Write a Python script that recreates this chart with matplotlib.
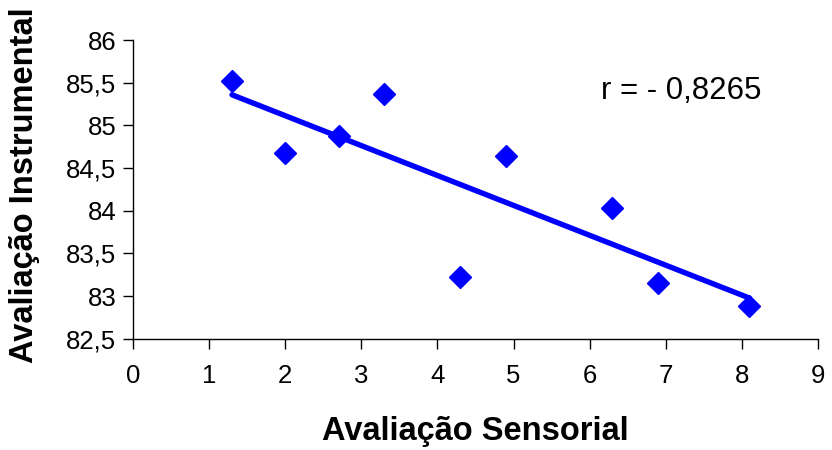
import numpy as np
import matplotlib.pyplot as plt

plt.rcParams['font.family'] = ['Liberation Sans', 'DejaVu Sans']

# readings
sensorial = [1.3, 2.0, 2.7, 3.3, 4.3, 4.9, 6.3, 6.9, 8.1]
instrumental = [85.52, 84.68, 84.88, 85.37, 83.22, 84.64, 84.03, 83.16, 82.89]
r_label = "r = - 0,8265"
yticks = [82.5, 83, 83.5, 84, 84.5, 85, 85.5, 86]

x = np.array(sensorial)
y = np.array(instrumental)
slope, icpt = np.polyfit(x, y, 1)
xl = np.array([x.min(), x.max()])

fig = plt.figure(figsize=(8.32, 4.5), dpi=100)
ax = fig.add_axes([0.16, 0.247, 0.823, 0.664])

ax.plot(xl, slope * xl + icpt, color='#0000ff', lw=3.9, solid_capstyle='round', zorder=2)
ax.plot(x, y, 'D', color='#0000ff', markersize=11, zorder=3)

ax.set_xlim(0, 9)
ax.set_ylim(82.5, 86)
ax.set_xticks(range(10))
ax.set_yticks(yticks)
ax.set_yticklabels([("%g" % v).replace('.', ',') for v in yticks])

for s in ['top', 'right']:
    ax.spines[s].set_visible(False)
for s in ['left', 'bottom']:
    ax.spines[s].set_color('black')
    ax.spines[s].set_linewidth(1.0)
ax.tick_params(labelsize=18.5, length=7, width=1, direction='out')
ax.tick_params(axis='x', pad=11)
ax.tick_params(axis='y', pad=5)

ax.text(0.683, 0.83, r_label, transform=ax.transAxes, fontsize=22.5, va='center')

ax.set_xlabel("Avaliação Sensorial", fontsize=23.5, fontweight='bold')
ax.set_ylabel("Avaliação Instrumental", fontsize=23.5, fontweight='bold')
ax.xaxis.set_label_coords(0.5, -0.258)
ax.yaxis.set_label_coords(-0.136, 0.513)

fig.savefig('out.png', dpi=100)
